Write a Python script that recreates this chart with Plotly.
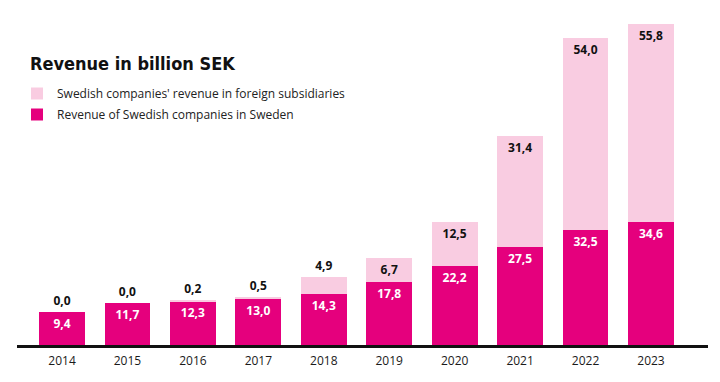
import plotly.graph_objects as go

years = ["2014", "2015", "2016", "2017", "2018", "2019", "2020", "2021", "2022", "2023"]
sweden = [9.4, 11.7, 12.3, 13.0, 14.3, 17.8, 22.2, 27.5, 32.5, 34.6]
foreign = [0.0, 0.0, 0.2, 0.5, 4.9, 6.7, 12.5, 31.4, 54.0, 55.8]

DARK = "#E5007D"
LIGHT = "#F9CCE1"

light_pos = ["outside", "outside", "outside", "outside", "outside",
             "inside", "inside", "inside", "inside", "inside"]

fig = go.Figure()
fig.add_trace(go.Bar(
    x=years, y=sweden, name="Revenue of Swedish companies in Sweden",
    legendgroup="se", legendrank=2,
    marker=dict(color=DARK, line=dict(width=0)),
    texttemplate="%{y:.1f}", textposition="inside", insidetextanchor="end",
    textfont=dict(family="Open Sans", size=12, color="white", weight="bold"),
    textangle=0, cliponaxis=False,
))
fig.add_trace(go.Bar(
    x=years, y=foreign, name="Swedish companies' revenue in foreign subsidiaries",
    legendgroup="fo", legendrank=1,
    marker=dict(color=LIGHT, line=dict(width=0)),
    texttemplate="%{y:.1f}", textposition=light_pos, insidetextanchor="end",
    insidetextfont=dict(family="Open Sans", size=12, color="#111111", weight="bold"),
    outsidetextfont=dict(family="Open Sans", size=12, color="#111111", weight="bold"),
    textangle=0, cliponaxis=False,
))

# page body has an 8px default margin; offsets below compensate for it
fig.update_layout(
    width=720, height=382,
    barmode="stack", bargap=0.3,
    separators=",.",
    plot_bgcolor="white", paper_bgcolor="white",
    margin=dict(l=9, r=20, t=2, b=45, autoexpand=False),
    title=dict(
        text="<b>Revenue in billion SEK</b>",
        font=dict(family="DejaVu Sans Condensed", size=18, color="#111111"),
        x=22/720, xref="container", xanchor="left",
        y=1 - 56/382, yref="container", yanchor="middle",
    ),
    legend=dict(
        traceorder="grouped",
        x=0, xref="paper", xanchor="left",
        y=1 - 69/335, yref="paper", yanchor="top",
        font=dict(family="Open Sans", size=12, color="#222222"),
        bgcolor="rgba(0,0,0,0)", itemclick=False,
        tracegroupgap=2,
    ),
    showlegend=True,
    xaxis=dict(
        range=[-0.688, 9.871], showgrid=False, showline=True,
        linecolor="#111111", linewidth=3, ticks="",
        tickfont=dict(family="Open Sans", size=12, color="#1a1a1a"),
        ticklabelstandoff=3,
        fixedrange=True,
    ),
    yaxis=dict(
        range=[0, 335/3.55], showgrid=False, showline=False, zeroline=False,
        showticklabels=False, ticks="", fixedrange=True,
    ),
)

fig.write_html("out.html")
